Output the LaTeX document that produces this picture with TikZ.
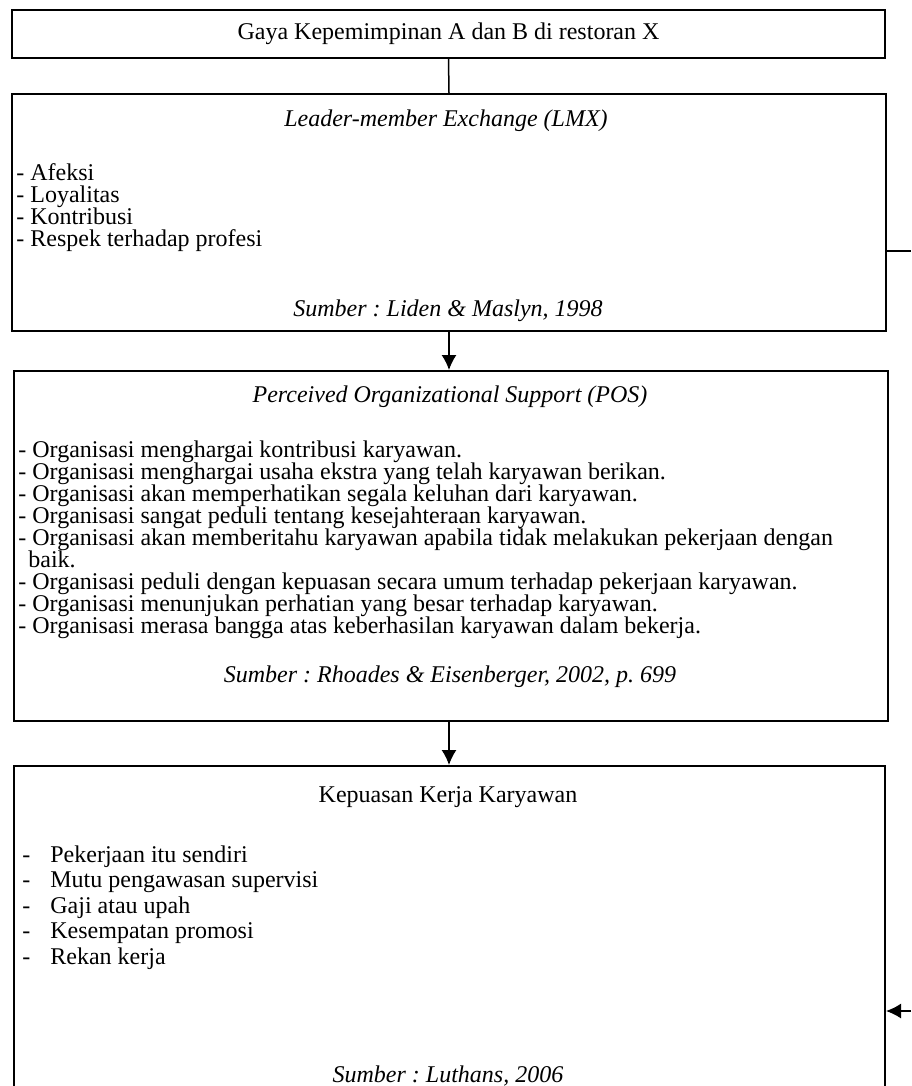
\documentclass[tikz,border=0pt]{standalone}
\usepackage{fontspec}
\setmainfont{Liberation Serif}
\usetikzlibrary{positioning,arrows.meta}
\frenchspacing

\begin{document}
\begin{tikzpicture}[x=0.5pt,y=-0.5pt,>={Latex[length=7.5pt,width=7.5pt]},
        box/.style={draw,line width=1pt,anchor=north west,inner sep=0pt},
        title/.style={inner sep=0pt,font=\fontsize{12pt}{13pt}\selectfont},
        items/.style={inner sep=0pt,anchor=north west,align=left,
                      font=\fontsize{12pt}{11pt}\selectfont},
        items2/.style={items,font=\fontsize{12pt}{12.8pt}\selectfont},
        link/.style={line width=0.75pt}]

  \useasboundingbox (0,0) rectangle (911,1086);
  \clip (0,0) rectangle (911,1086);

  % the four boxes
  \node[box,minimum width=436.5pt,minimum height=24pt] (gaya) at (11,9) {};
  \node[box,minimum width=437pt,minimum height=118.5pt] (lmx) at (11,93) {};
  \node[box,minimum width=437pt,minimum height=175pt] (pos) at (13,370) {};
  \node[box,minimum width=435.5pt,minimum height=200pt] (kep) at (13,765) {};

  % texts
  \node[title] (gayaT) at (gaya.center) {Gaya Kepemimpinan A dan B di restoran X};

  \node[title] (lmxT) at (446,121) {\itshape Leader-member Exchange (LMX)};
  \node[items] (lmxL) at (16,163) {- Afeksi\\- Loyalitas\\- Kontribusi\\- Respek terhadap profesi};
  \node[title] (lmxS) at (448,311) {\itshape Sumber : Liden \& Maslyn, 1998};

  \node[title] (posT) at (450,397) {\itshape Perceived Organizational Support (POS)};
  \node[items] (posL) at (18,440) {- Organisasi menghargai kontribusi karyawan.\\
    - Organisasi menghargai usaha ekstra yang telah karyawan berikan.\\
    - Organisasi akan memperhatikan segala keluhan dari karyawan.\\
    - Organisasi sangat peduli tentang kesejahteraan karyawan.\\
    - Organisasi akan memberitahu karyawan apabila tidak melakukan pekerjaan dengan\\
    \hspace*{5pt}baik.\\
    - Organisasi peduli dengan kepuasan secara umum terhadap pekerjaan karyawan.\\
    - Organisasi menunjukan perhatian yang besar terhadap karyawan.\\
    - Organisasi merasa bangga atas keberhasilan karyawan dalam bekerja.};
  \node[title] (posS) at (450,677) {\itshape Sumber : Rhoades \& Eisenberger, 2002, p. 699};

  \node[title] (kepT) at (448,797) {Kepuasan Kerja Karyawan};
  \node[items2] (kepL) at (22,845) {\makebox[14pt][l]{-}Pekerjaan itu sendiri\\
    \makebox[14pt][l]{-}Mutu pengawasan supervisi\\
    \makebox[14pt][l]{-}Gaji atau upah\\
    \makebox[14pt][l]{-}Kesempatan promosi\\
    \makebox[14pt][l]{-}Rekan kerja};
  \node[title] (kepS) at (448,1076) {\itshape Sumber : Luthans, 2006};

  % connectors
  \draw[link] (gaya.south) -- (lmx.north);
  \draw[link,->] (lmx.south) -- (pos.north -| lmx.south);
  \draw[link,->] (pos.south -| lmx.south) -- (kep.north -| lmx.south);

  \coordinate (edgeA) at (911,251);
  \coordinate (edgeB) at (911,1011);
  \draw[link] (lmx.east |- edgeA) -- (edgeA);
  \draw[link,->] (edgeB) -- (kep.east |- edgeB);

\end{tikzpicture}
\end{document}
